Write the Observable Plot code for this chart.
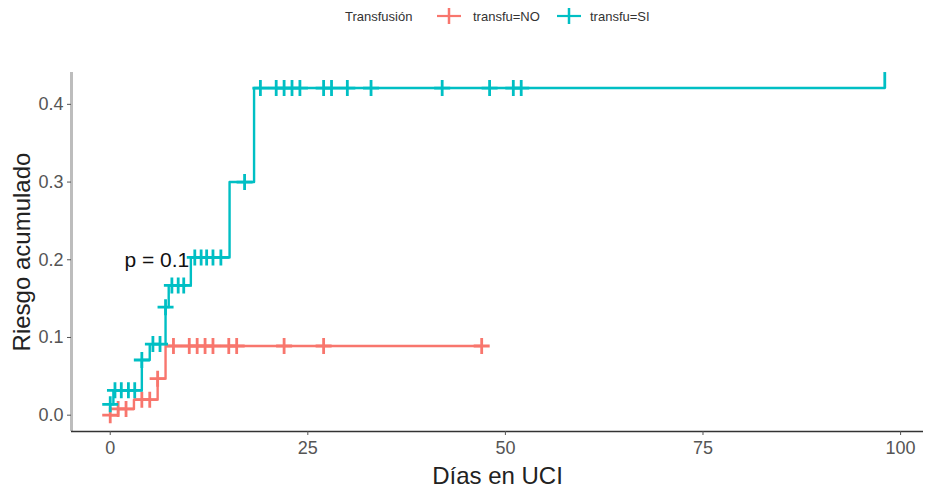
<!DOCTYPE html>
<html><head><meta charset="utf-8">
<script src="https://cdn.jsdelivr.net/npm/d3@7"></script>
<script src="https://cdn.jsdelivr.net/npm/@observablehq/plot@0.6"></script>
<style>
body{margin:0;background:#fff;font-family:"Liberation Sans",Arial,sans-serif;}
#legend{height:32px;position:relative;width:930px;font-size:13px;color:#333;}
#legend .it{position:absolute;top:0;height:32px;display:flex;align-items:center;white-space:nowrap;}
#legend svg{display:block;}
</style></head><body>
<div id="legend"></div>
<div id="chart"></div>
<script>
// ---- data ----
const groups = ["transfu=NO", "transfu=SI"];
const groupColors = ["#F8766D", "#00BFC4"];
const legendTitle = "Transfusión";

// group NO: step curve (time, cumulative risk) and censoring times
const noStepTimes = [0, 1, 3, 6, 7, 47];
const noStepRisk  = [0, 0.008, 0.02, 0.047, 0.089, 0.089];
const noCensorTimes = [0, 1, 2, 4, 5, 6, 8, 10, 11, 12, 13, 15, 16, 22, 27, 47];

// group SI
const siStepTimes = [0, 0.4, 4, 5, 7, 7.4, 10.2, 15.1, 18.2, 98];
const siStepRisk  = [0.014, 0.032, 0.071, 0.0915, 0.139, 0.167, 0.203, 0.30, 0.421, 0.421];
const siCensorTimes = [0, 0.6, 1.4, 2.3, 3.1, 4, 5.4, 6.3, 7, 7.8, 8.6, 9.3, 10.7, 11.5, 12.2, 13, 14, 17,
                       19, 21, 22, 23, 24, 27, 28, 30, 33, 42, 48, 51, 52];
const siEndTime = [98];

const xTicks = [0, 25, 50, 75, 100];
const yTicks = [0, 0.1, 0.2, 0.3, 0.4];
const xDomain = [-4.9, 102.9];
const yDomain = [-0.021, 0.441];
const xTitle = "Días en UCI";
const yTitle = "Riesgo acumulado";
const pvalText = "p = 0.1";
const pvalPos = [1.8, 0.2];

// ---- build tables ----
function stepRows(times, risks, g) { return times.map((t, i) => ({t, risk: risks[i], group: g})); }
function levelAt(times, risks, t) { let v = risks[0]; for (let i = 0; i < times.length; i++) if (times[i] <= t) v = risks[i]; return v; }
function censorRows(ct, times, risks, g) { return ct.map(t => ({t, risk: levelAt(times, risks, t), group: g})); }

const lines = [...stepRows(noStepTimes, noStepRisk, groups[0]), ...stepRows(siStepTimes, siStepRisk, groups[1])];
const censors = [...censorRows(noCensorTimes, noStepTimes, noStepRisk, groups[0]),
                 ...censorRows(siCensorTimes, siStepTimes, siStepRisk, groups[1])];
const endMarks = censorRows(siEndTime, siStepTimes, siStepRisk, groups[1]);

const plusSym = {draw(ctx, size) { const r = Math.sqrt(size / Math.PI); ctx.moveTo(-r, 0); ctx.lineTo(r, 0); ctx.moveTo(0, -r); ctx.lineTo(0, r); }};
const upSym = {draw(ctx, size) { const r = Math.sqrt(size / Math.PI); ctx.moveTo(0, 0); ctx.lineTo(0, -2 * r); }};

const chart = Plot.plot({
  width: 930, height: 463,
  marginLeft: 71, marginRight: 7, marginTop: 40, marginBottom: 64,
  style: {fontFamily: "'Liberation Sans', Arial, sans-serif", background: "#fff"},
  x: {domain: xDomain},
  y: {domain: yDomain},
  color: {domain: groups, range: groupColors},
  marks: [
    Plot.ruleX([xDomain[0]], {stroke: "#bdbdbd", strokeWidth: 3}),
    Plot.ruleY([yDomain[0]], {stroke: "#333", strokeWidth: 1.6}),
    Plot.axisX({ticks: xTicks, fontSize: 18, tickSize: 4, tickPadding: 6, color: "#555", label: null}),
    Plot.axisY({ticks: yTicks, tickFormat: d3.format(".1f"), fontSize: 18, tickSize: 4, tickPadding: 4, color: "#555", label: null}),
    Plot.line(lines, {x: "t", y: "risk", z: "group", stroke: "group", curve: "step-after", strokeWidth: 2.4}),
    Plot.dot(censors, {x: "t", y: "risk", stroke: "group", fill: "none", symbol: plusSym, r: 8, strokeWidth: 2.8}),
    Plot.dot(endMarks, {x: "t", y: "risk", stroke: "group", fill: "none", symbol: upSym, r: 8, strokeWidth: 2.8}),
    Plot.text([pvalText], {x: () => pvalPos[0], y: () => pvalPos[1], text: d => d, textAnchor: "start", fontSize: 21, fill: "#111"}),
    Plot.text([xTitle], {frameAnchor: "bottom", text: d => d, textAnchor: "middle", dy: 52, fontSize: 24, fill: "#222"}),
    Plot.text([yTitle], {frameAnchor: "left", text: d => d, textAnchor: "middle", rotate: -90, dx: -49, fontSize: 24, fill: "#222"})
  ]
});
document.getElementById("chart").appendChild(chart);

// ---- legend ----
const lg = document.getElementById("legend");
const lefts = [345, 437, 473, 557, 590];
function item(left, html) { const d = document.createElement("div"); d.className = "it"; d.style.left = left + "px"; d.innerHTML = html; lg.appendChild(d); }
function key(c) { return `<svg width="24" height="20"><line x1="0" x2="24" y1="10" y2="10" stroke="${c}" stroke-width="2.2"/><line x1="12" x2="12" y1="2" y2="18" stroke="${c}" stroke-width="2.5"/></svg>`; }
item(lefts[0], legendTitle);
item(lefts[1], key(groupColors[0]));
item(lefts[2], groups[0]);
item(lefts[3], key(groupColors[1]));
item(lefts[4], groups[1]);
</script>
</body></html>
